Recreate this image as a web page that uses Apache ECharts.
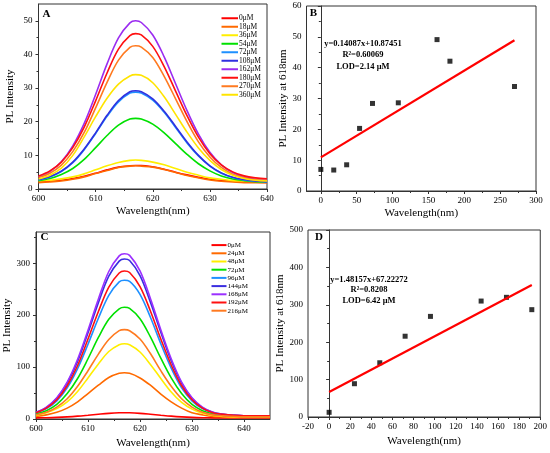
<!DOCTYPE html>
<html>
<head>
<meta charset="utf-8">
<script src="https://cdn.jsdelivr.net/npm/echarts@6/dist/echarts.min.js"></script>
<style>
  html, body { margin: 0; padding: 0; background: #fff; }
  #chart { width: 550px; height: 453px; }
</style>
</head>
<body>
<div id="chart"></div>
<script>
// ---- panel A : spectra, Hg2+ series ----
const wavelengthA = [600, 602, 604, 606, 608, 610, 612, 614, 616, 617, 618, 620, 622, 624, 626, 628, 630, 632, 634, 636, 638, 640];
const concA = ['0μM', '18μM', '36μM', '54μM', '72μM', '108μM', '162μM', '180μM', '270μM', '360μM'];
const intensityA = [
    [2.1, 2.3, 2.6, 3.1, 3.8, 4.7, 5.7, 6.5, 6.9, 7.0, 7.0, 6.6, 5.9, 5.0, 4.2, 3.5, 2.9, 2.5, 2.3, 2.1, 2.1, 2.0],
    [1.9, 2.1, 2.4, 2.9, 3.6, 4.6, 5.5, 6.4, 6.8, 6.9, 6.8, 6.5, 5.8, 4.9, 4.0, 3.3, 2.7, 2.3, 2.1, 1.9, 1.9, 1.8],
    [2.4, 2.6, 3.0, 3.6, 4.5, 5.7, 6.9, 7.9, 8.5, 8.6, 8.5, 8.0, 7.2, 6.1, 5.0, 4.1, 3.3, 2.9, 2.5, 2.4, 2.3, 2.2],
    [2.5, 3.1, 4.3, 6.1, 8.8, 12.3, 15.9, 19.0, 20.8, 21.0, 20.8, 19.3, 16.7, 13.5, 10.3, 7.5, 5.4, 3.9, 3.0, 2.5, 2.2, 2.1],
    [2.7, 3.6, 5.2, 7.8, 11.7, 16.5, 21.6, 25.9, 28.5, 28.8, 28.5, 26.4, 22.8, 18.3, 13.7, 9.8, 6.8, 4.7, 3.4, 2.7, 2.3, 2.1],
    [2.8, 3.7, 5.3, 8.0, 11.9, 16.7, 21.9, 26.3, 28.9, 29.2, 28.9, 26.8, 23.1, 18.6, 14.0, 10.0, 6.9, 4.8, 3.5, 2.8, 2.4, 2.2],
    [3.6, 5.2, 8.1, 12.8, 19.5, 28.1, 37.2, 44.9, 49.4, 50.0, 49.5, 45.8, 39.3, 31.3, 23.3, 16.3, 10.9, 7.2, 4.9, 3.6, 2.9, 2.6],
    [3.9, 5.4, 8.0, 12.3, 18.4, 26.2, 34.5, 41.6, 45.6, 46.2, 45.8, 42.4, 36.4, 29.1, 21.8, 15.4, 10.5, 7.2, 5.1, 3.9, 3.3, 3.0],
    [3.4, 4.7, 7.1, 11.1, 16.8, 24.1, 31.7, 38.3, 42.1, 42.6, 42.2, 39.1, 33.5, 26.8, 20.0, 14.0, 9.5, 6.4, 4.4, 3.3, 2.7, 2.5],
    [3.0, 4.1, 6.2, 10.0, 15.5, 21.5, 27.0, 31.2, 33.6, 34.0, 33.8, 31.6, 27.4, 22.2, 16.9, 12.2, 8.5, 5.8, 4.1, 3.1, 2.6, 2.4]
];
const colorsA = ['#ff0000', '#ff6a00', '#ffee00', '#00e000', '#1e90ff', '#3030e0', '#9b2cf0', '#ff1010', '#ff7a20', '#ffe400'];

// ---- panel B : calibration ----
const concB = [0, 18, 36, 54, 72, 108, 162, 180, 270];
const peakB = [7.0, 6.8, 8.5, 20.3, 28.4, 28.6, 49.1, 42.1, 33.9];
const fitB = [[0, 10.9], [270, 48.9]];
const textB = ['y=0.14087x+10.87451', 'R²=0.60069', 'LOD=2.14 μM'];

// ---- panel C : spectra, second series ----
const wavelengthC = [600, 602, 604, 606, 608, 610, 612, 614, 616, 617, 618, 620, 622, 624, 626, 628, 630, 632, 634, 636, 638, 640, 642, 644, 645];
const concC = ['0μM', '24μM', '48μM', '72μM', '96μM', '144μM', '168μM', '192μM', '216μM'];
const intensityC = [
    [2.2, 2.5, 3.1, 4.1, 5.5, 7.3, 9.2, 10.9, 11.9, 12, 11.9, 10.9, 9.2, 7.3, 5.5, 4.1, 3.1, 2.5, 2.2, 2.1, 2, 2, 2, 2, 2],
    [5, 8, 13, 21, 33, 49, 65, 80, 88, 89, 88, 79, 65, 48, 33, 21, 12, 8, 5, 4, 3, 3, 3, 3, 3],
    [7, 12, 20, 33, 53, 79, 106, 130, 143, 145, 143, 129, 105, 78, 52, 32, 19, 11, 7, 5, 4, 4, 4, 4, 4],
    [10, 16, 28, 49, 78, 116, 157, 192, 212, 215, 213, 193, 158, 117, 79, 49, 28, 16, 10, 7, 6, 5, 5, 5, 5],
    [12, 20, 35, 60, 97, 144, 194, 238, 264, 267, 265, 240, 196, 145, 98, 60, 35, 20, 12, 8, 7, 6, 6, 6, 6],
    [13, 22, 40, 69, 111, 166, 224, 275, 304, 308, 305, 276, 225, 167, 112, 69, 40, 22, 13, 9, 7, 6, 6, 6, 6],
    [13, 23, 41, 71, 115, 171, 231, 284, 314, 318, 315, 285, 232, 172, 116, 71, 41, 23, 13, 9, 7, 6, 6, 6, 6],
    [12, 21, 37, 64, 103, 154, 207, 254, 281, 285, 282, 255, 208, 154, 104, 64, 37, 21, 12, 9, 7, 6, 6, 6, 6],
    [8, 13, 23, 39, 63, 93, 125, 153, 170, 172, 170, 154, 126, 93, 63, 39, 23, 13, 8, 6, 5, 4, 4, 4, 4]
];
const colorsC = ['#ff0000', '#ff6a00', '#ffee00', '#00e000', '#1e90ff', '#3a2ee0', '#9b30ff', '#ff1010', '#ff7a20'];

// ---- panel D : calibration ----
const concD = [0, 24, 48, 72, 96, 144, 168, 192];
const peakD = [12.5, 89, 145, 216, 269, 310, 320, 287];
const fitD = [[0, 66.8], [192, 353]];
const textD = ['y=1.48157x+67.22272', 'R²=0.8208', 'LOD=6.42 μM'];

const FONT = '"Liberation Serif", "Times New Roman", serif';
const zip = (xs, ys) => xs.map((x, i) => [x, ys[i]]);

function valueAxis(grid, opt) {
    return Object.assign({
        type: 'value',
        gridIndex: grid,
        splitLine: { show: false },
        axisLine: { show: true, lineStyle: { color: '#333', width: 1 } },
        axisTick: { show: true, inside: false, length: 3, lineStyle: { color: '#333' } },
        minorTick: { show: true, splitNumber: 2, length: 2, lineStyle: { color: '#333' } },
        axisLabel: { color: '#000', fontFamily: FONT, fontSize: 9, margin: 5 },
        nameLocation: 'middle',
        nameTextStyle: { color: '#000', fontFamily: FONT, fontSize: 11 }
    }, opt);
}
function ticksAt(vals, margin) {
    return {
        axisTick: { show: true, length: 3, lineStyle: { color: '#333' }, customValues: vals },
        axisLabel: { color: '#000', fontFamily: FONT, fontSize: 9, margin: margin, customValues: vals }
    };
}

const chart = echarts.init(document.getElementById('chart'), null, { renderer: 'canvas' });

const series = [];
intensityA.forEach((vals, i) => {
    series.push({
        name: concA[i], type: 'line', xAxisIndex: 0, yAxisIndex: 0,
        data: zip(wavelengthA, vals), smooth: 0.35, symbol: 'none',
        lineStyle: { width: 1.6, color: colorsA[i] }, itemStyle: { color: colorsA[i] }
    });
});
intensityC.forEach((vals, i) => {
    series.push({
        // trailing space keeps legend names apart from panel A
        name: concC[i] + ' ', type: 'line', xAxisIndex: 2, yAxisIndex: 2,
        data: zip(wavelengthC, vals), smooth: 0.35, symbol: 'none',
        lineStyle: { width: 1.6, color: colorsC[i] }, itemStyle: { color: colorsC[i] }
    });
});
series.push({
    type: 'line', xAxisIndex: 1, yAxisIndex: 1, data: fitB, symbol: 'none',
    lineStyle: { color: '#ff0000', width: 2.2 }
});
series.push({
    type: 'scatter', xAxisIndex: 1, yAxisIndex: 1, data: zip(concB, peakB),
    symbol: 'rect', symbolSize: 5, itemStyle: { color: '#000' }
});
series.push({
    type: 'line', xAxisIndex: 3, yAxisIndex: 3, data: fitD, symbol: 'none',
    lineStyle: { color: '#ff0000', width: 2.2 }
});
series.push({
    type: 'scatter', xAxisIndex: 3, yAxisIndex: 3, data: zip(concD, peakD),
    symbol: 'rect', symbolSize: 5, itemStyle: { color: '#000' }
});

function textBlock(lines, cx, ys) {
    return lines.map((t, i) => ({
        type: 'text', x: cx, y: ys[i],
        style: { text: t, fill: '#000', font: 'bold 8.5px ' + FONT, textAlign: 'center', textVerticalAlign: 'middle' }
    }));
}
function letter(t, x, y) {
    return {
        type: 'text', x: x, y: y,
        style: { text: t, fill: '#000', font: 'bold 11px ' + FONT, textAlign: 'center', textVerticalAlign: 'middle' }
    };
}

const gridBox = { show: true, borderColor: '#333', borderWidth: 1, containLabel: false };

chart.setOption({
    animation: false,
    backgroundColor: '#fff',
    grid: [
        Object.assign({ left: 38.5, top: 4, width: 228.5, height: 185 }, gridBox),
        Object.assign({ left: 306.5, top: 6, width: 229.5, height: 185 }, gridBox),
        Object.assign({ left: 36, top: 232, width: 234, height: 187 }, gridBox),
        Object.assign({ left: 308, top: 230, width: 233, height: 187 }, gridBox)
    ],
    xAxis: [
        valueAxis(0, { min: 600, max: 640, interval: 10, name: 'Wavelength(nm)', nameGap: 17 }),
        valueAxis(1, Object.assign({
            min: -20, max: 300, name: 'Wavelength(nm)', nameGap: 17,
            minorTick: { show: false }
        }, ticksAt([0, 50, 100, 150, 200, 250, 300], 5))),
        valueAxis(2, Object.assign({
            min: 600, max: 645, interval: 10, name: 'Wavelength(nm)', nameGap: 19
        }, ticksAt([600, 610, 620, 630, 640], 5))),
        valueAxis(3, { min: -20, max: 200, interval: 20, name: 'Wavelength(nm)', nameGap: 19 }),
        // minor ticks for panel B
        valueAxis(1, {
            min: -20, max: 300, position: 'bottom',
            axisLine: { show: false }, axisLabel: { show: false }, minorTick: { show: false },
            axisTick: { show: true, length: 2, lineStyle: { color: '#333' }, customValues: [25, 75, 125, 175, 225, 275] }
        })
    ],
    yAxis: [
        valueAxis(0, Object.assign({
            min: 0, max: 55, interval: 10, name: 'PL Intensity', nameGap: 23
        }, ticksAt([0, 10, 20, 30, 40, 50], 6))),
        valueAxis(1, { min: 0, max: 60, interval: 10, name: 'PL Intensity at 618nm', nameGap: 15 }),
        valueAxis(2, Object.assign({
            min: 0, max: 360, interval: 100, name: 'PL Intensity', nameGap: 22
        }, ticksAt([0, 100, 200, 300], 6))),
        valueAxis(3, { min: 0, max: 500, interval: 100, name: 'PL Intensity at 618nm', nameGap: 17 })
    ],
    legend: [
        {
            data: concA, orient: 'vertical', left: 221.5, top: 14, padding: 0,
            icon: 'rect', itemWidth: 16.5, itemHeight: 2, itemGap: 0,
            textStyle: { fontFamily: FONT, fontSize: 7.5, lineHeight: 8.5, color: '#000', padding: [0, 0, 0, -4] }
        },
        {
            data: concC.map(c => c + ' '), orient: 'vertical', left: 211.5, top: 241, padding: 0,
            icon: 'rect', itemWidth: 15, itemHeight: 2, itemGap: 0,
            textStyle: { fontFamily: FONT, fontSize: 7, lineHeight: 8.2, color: '#000', padding: [0, 0, 0, -4] }
        }
    ],
    graphic: [
        letter('A', 46.5, 14),
        letter('B', 313.5, 13),
        letter('C', 44.5, 237.5),
        letter('D', 319, 237.3)
    ].concat(textBlock(textB, 363, [43.3, 55, 66.7]), textBlock(textD, 369, [279.3, 289.5, 301])),
    series: series
});
</script>
</body>
</html>
